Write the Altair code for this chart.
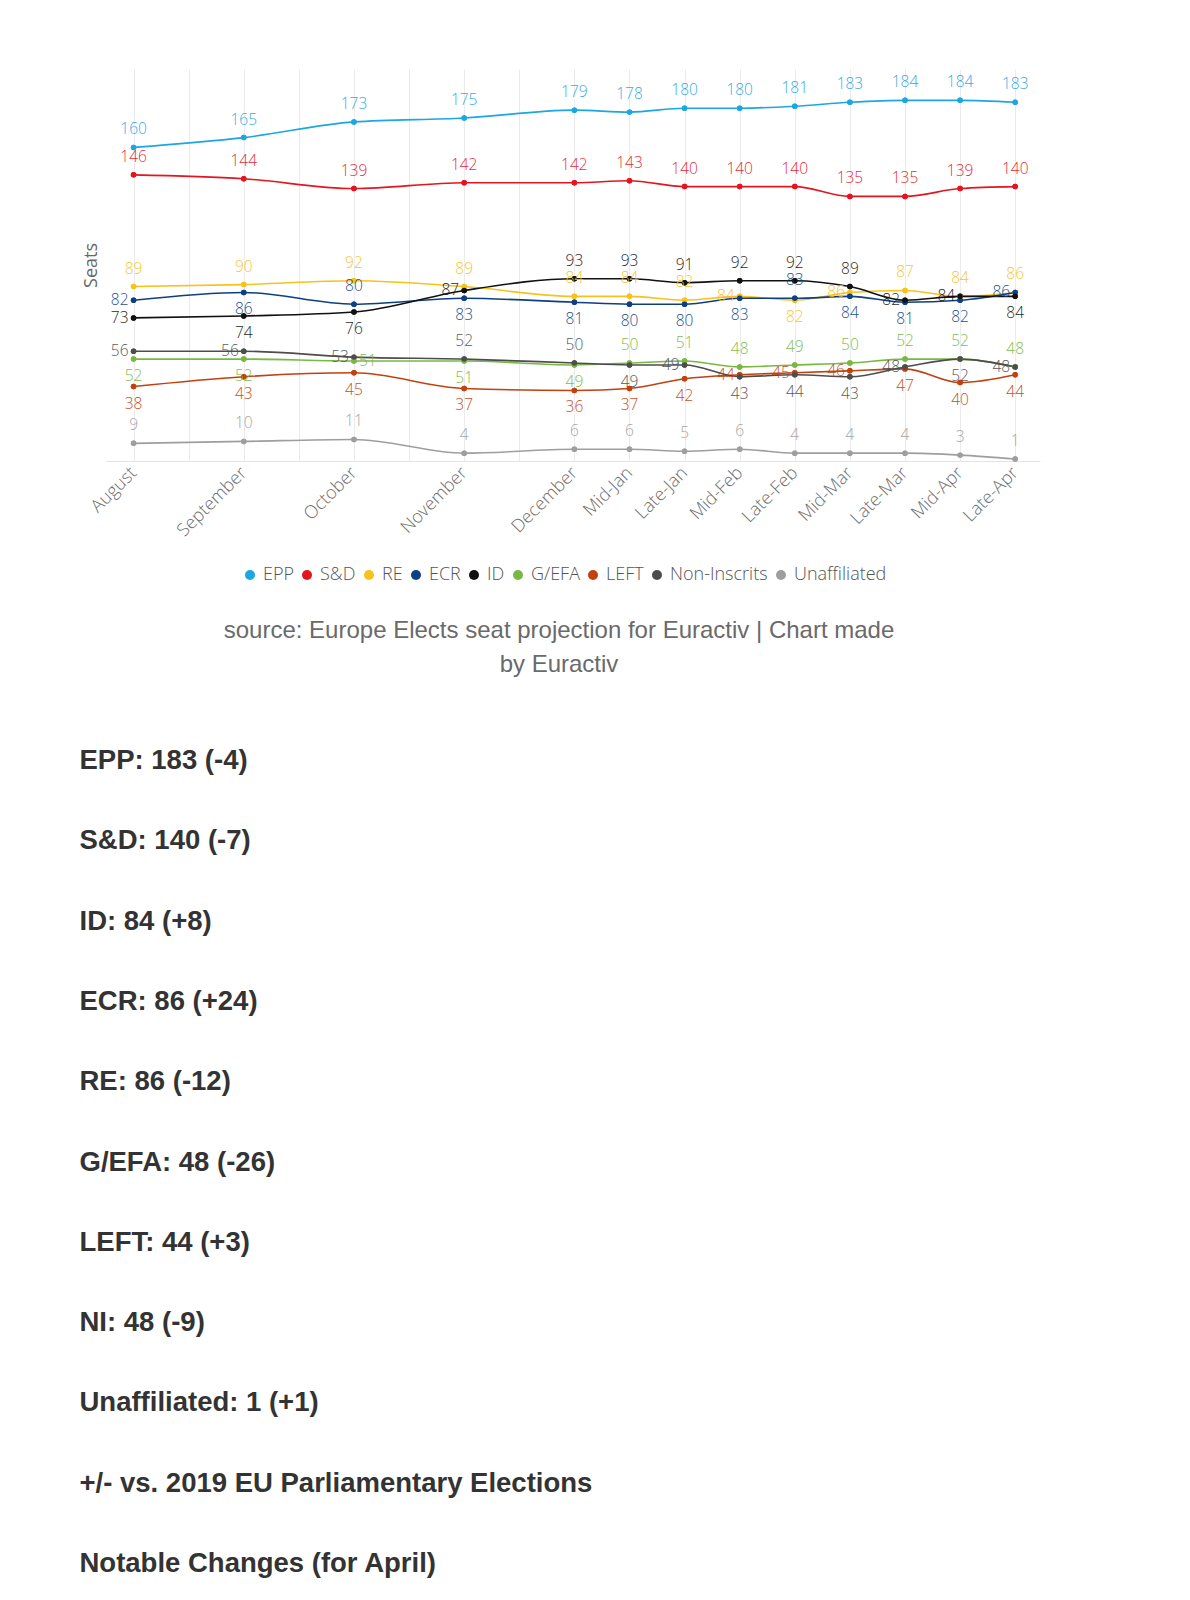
import altair as alt
import pandas as pd

# ---------------- data ----------------
periods = ["August", "September", "October", "November", "December", "Mid-Jan",
           "Late-Jan", "Mid-Feb", "Late-Feb", "Mid-Mar", "Late-Mar", "Mid-Apr", "Late-Apr"]
# time position in half-month steps (monthly points first, then half-monthly)
period_pos = [0, 2, 4, 6, 8, 9, 10, 11, 12, 13, 14, 15, 16]

parties = ["EPP", "S&D", "RE", "ECR", "ID", "G/EFA", "LEFT", "Non-Inscrits", "Unaffiliated"]

epp = [160, 165, 173, 175, 179, 178, 180, 180, 181, 183, 184, 184, 183]
snd = [146, 144, 139, 142, 142, 143, 140, 140, 140, 135, 135, 139, 140]
renew = [89, 90, 92, 89, 84, 84, 82, 84, 82, 86, 87, 84, 86]
ecr = [82, 86, 80, 83, 81, 80, 80, 83, 83, 84, 81, 82, 86]
idg = [73, 74, 76, 87, 93, 93, 91, 92, 92, 89, 82, 84, 84]
gefa = [52, 52, 51, 51, 49, 50, 51, 48, 49, 50, 52, 52, 48]
left = [38, 43, 45, 37, 36, 37, 42, 44, 45, 46, 47, 40, 44]
ni = [56, 56, 53, 52, 50, 49, 49, 43, 44, 43, 48, 52, 48]
unaff = [9, 10, 11, 4, 6, 6, 5, 6, 4, 4, 4, 3, 1]

series = [epp, snd, renew, ecr, idg, gefa, left, ni, unaff]

source_lines = ["source: Europe Elects seat projection for Euractiv | Chart made",
                "by Euractiv"]

summary_lines = ["EPP: 183 (-4)", "S&D: 140 (-7)", "ID: 84 (+8)", "ECR: 86 (+24)",
                 "RE: 86 (-12)", "G/EFA: 48 (-26)", "LEFT: 44 (+3)", "NI: 48 (-9)",
                 "Unaffiliated: 1 (+1)", "+/- vs. 2019 EU Parliamentary Elections",
                 "Notable Changes (for April)"]

# ---------------- styles ----------------
colors = ["#1ca6e2", "#e4151f", "#f7c21b", "#0e3f82", "#111111",
          "#78b843", "#c2410c", "#4d4d4d", "#9e9e9e"]

label_default = {"EPP": "above", "S&D": "above", "RE": "above", "ECR": "below",
                 "ID": "above", "G/EFA": "above", "LEFT": "below",
                 "Non-Inscrits": "above", "Unaffiliated": "above"}
label_exceptions = {
    ("RE", "Mid-Feb"): "left", ("RE", "Late-Feb"): "below", ("RE", "Mid-Mar"): "left",
    ("ID", "August"): "left", ("ID", "September"): "below", ("ID", "October"): "below",
    ("ID", "November"): "left", ("ID", "Late-Mar"): "left", ("ID", "Mid-Apr"): "left",
    ("ID", "Late-Apr"): "below",
    ("ECR", "August"): "left", ("ECR", "October"): "above", ("ECR", "Late-Feb"): "above",
    ("ECR", "Late-Apr"): "left",
    ("Non-Inscrits", "August"): "left", ("Non-Inscrits", "September"): "left",
    ("Non-Inscrits", "October"): "left", ("Non-Inscrits", "Mid-Jan"): "below",
    ("Non-Inscrits", "Late-Jan"): "left", ("Non-Inscrits", "Mid-Feb"): "below",
    ("Non-Inscrits", "Late-Feb"): "below", ("Non-Inscrits", "Mid-Mar"): "below",
    ("Non-Inscrits", "Late-Mar"): "left", ("Non-Inscrits", "Mid-Apr"): "below",
    ("Non-Inscrits", "Late-Apr"): "left",
    ("G/EFA", "August"): "below", ("G/EFA", "September"): "below",
    ("G/EFA", "October"): "right", ("G/EFA", "November"): "below",
    ("G/EFA", "December"): "below",
    ("LEFT", "Mid-Feb"): "left", ("LEFT", "Late-Feb"): "left", ("LEFT", "Mid-Mar"): "left",
}

rows = []
for party, vals in zip(parties, series):
    for per, pos, v in zip(periods, period_pos, vals):
        rows.append({"party": party, "period": per, "pos": pos, "seats": v,
                     "place": label_exceptions.get((party, per), label_default[party])})
df = pd.DataFrame(rows)

# axis labels at every half-month grid position
tick_values = list(range(period_pos[-1] + 1))
tick_names = [periods[period_pos.index(t)] if t in period_pos else "" for t in tick_values]
label_expr = "[" + ",".join("'" + s + "'" for s in tick_names) + "][datum.value]"

FONT = "Open Sans"

x_enc = alt.X("pos:Q", title=None,
              scale=alt.Scale(domain=[-0.5, 16.45], nice=False, zero=False),
              axis=alt.Axis(values=tick_values, labelExpr=label_expr, labelAngle=-45,
                            labelAlign="right", labelBaseline="middle", labelPadding=9,
                            labelOverlap=False, labelBound=False, labelFlush=False,
                            ticks=False, grid=True, gridColor="#ebebeb",
                            domainColor="#e3e3e3", labelFont=FONT, labelFontSize=18,
                            labelFontWeight=300, labelColor="#707070"))
y_scale = alt.Scale(domain=[0, 200], nice=False, zero=True)
color_scale = alt.Scale(domain=parties, range=colors)

legend = alt.Legend(orient="none", legendX=135, legendY=497,
                    direction="horizontal", columns=9, title=None,
                    symbolType="circle", symbolSize=100, symbolStrokeWidth=0,
                    labelFont=FONT, labelFontSize=18, labelFontWeight=300,
                    labelColor="#555555", columnPadding=4, labelOffset=4, padding=0)
color_enc = alt.Color("party:N", scale=color_scale, sort=parties, legend=legend)

base = alt.Chart(df)

points = base.mark_circle(size=30, opacity=1).encode(
    x=x_enc,
    y=alt.Y("seats:Q", scale=y_scale, axis=None),
    color=color_enc,
)

lines = base.mark_line(interpolate="monotone", strokeWidth=1.6).encode(
    x=x_enc,
    y=alt.Y("seats:Q", scale=y_scale,
            axis=alt.Axis(title="Seats", labels=False, ticks=False, domain=False,
                          grid=False, titleFont=FONT, titleFontSize=18,
                          titleColor="#666666", titleFontWeight="normal",
                          titlePadding=6)),
    color=color_enc,
)

points_top = base.mark_circle(size=30, opacity=1).encode(
    x=x_enc,
    y=alt.Y("seats:Q", scale=y_scale, axis=None),
    color=color_enc,
)

def label_layer(place, **mark_kw):
    return base.transform_filter(alt.datum.place == place).mark_text(
        font=FONT, fontSize=15.5, fontWeight=300, opacity=0.92, **mark_kw).encode(
        x=x_enc,
        y=alt.Y("seats:Q", scale=y_scale, axis=None),
        text=alt.Text("seats:Q"),
        color=color_enc,
    )

lab_above = label_layer("above", dy=-18, baseline="middle", align="center")
lab_below = label_layer("below", dy=17, baseline="middle", align="center")
lab_left = label_layer("left", dx=-5, baseline="middle", align="right")
lab_right = label_layer("right", dx=5, baseline="middle", align="left")

src_df = pd.DataFrame({"line": list(range(len(source_lines))), "text": source_lines})
source = alt.Chart(src_df).mark_text(
    font="Liberation Sans", fontSize=24, color="#6a6a6a", align="center",
    baseline="middle").encode(
    x=alt.value(453),
    y=alt.Y("line:Q", scale=alt.Scale(domain=[0, 1], range=[562, 596]), axis=None),
    text="text:N",
)

sum_df = pd.DataFrame({"line": list(range(len(summary_lines))), "text": summary_lines})
summary = alt.Chart(sum_df).mark_text(
    font="Liberation Sans", fontSize=27.5, fontWeight="bold", color="#333333",
    align="left", baseline="middle").encode(
    x=alt.value(-26.5),
    y=alt.Y("line:Q", scale=alt.Scale(domain=[0, 10], range=[692, 1495]), axis=None),
    text="text:N",
)

chart = alt.layer(
    points, lines, points_top, lab_above, lab_below, lab_left, lab_right, source, summary
).resolve_scale(y="independent").properties(
    width=934, height=392,
    padding={"left": 71, "top": 61, "right": 5, "bottom": 5},
).configure(background="white", view=alt.ViewConfig(stroke=None))

chart.save("out.html", embed_options={"renderer": "svg", "actions": False})
